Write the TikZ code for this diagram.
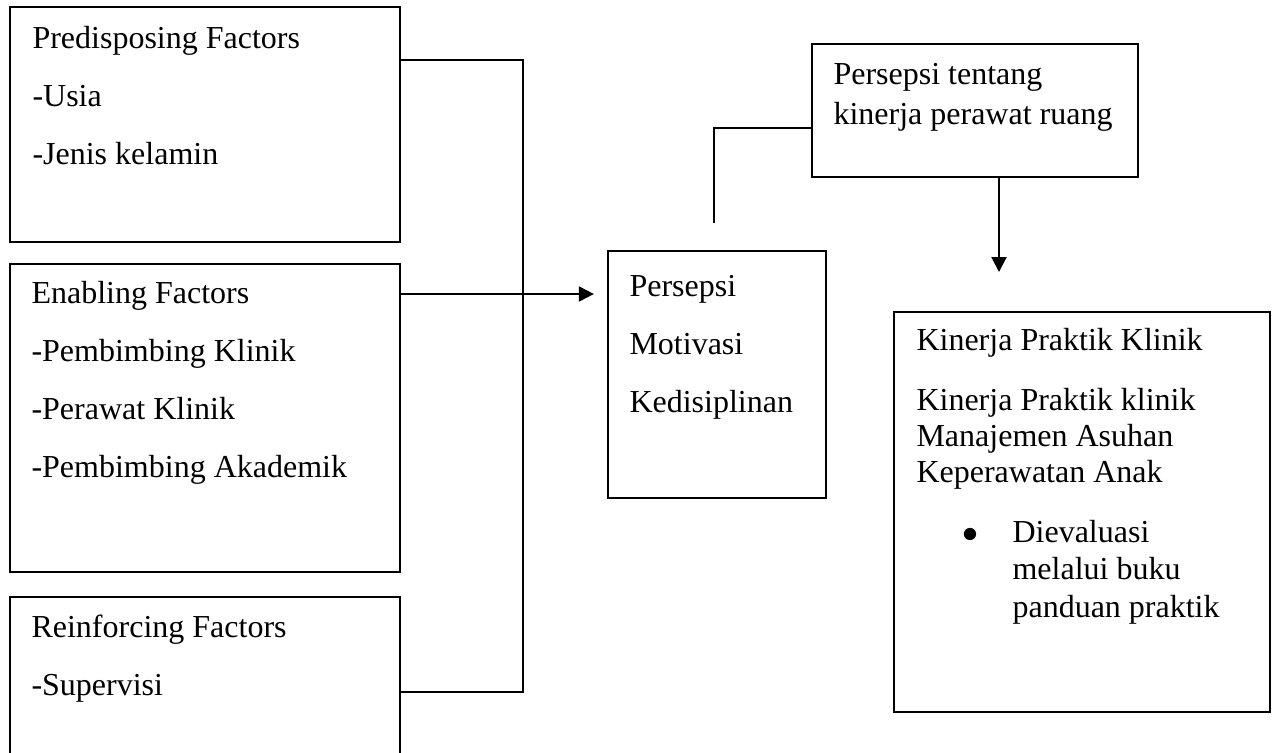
\documentclass[tikz,border=0pt]{standalone}
\usepackage{fontspec}
\setmainfont{Liberation Serif}
\usetikzlibrary{arrows.meta,positioning}

\begin{document}
\begin{tikzpicture}[x=.375pt,y=-.375pt,>={Triangle[length=5.6pt,width=5.6pt]},
  box/.style={draw,line width=.8pt,inner sep=0pt},
  txt/.style={anchor=base west,align=left,inner sep=0pt,font=\fontsize{12}{21.75}\selectfont},
  small/.style={anchor=base west,align=left,inner sep=0pt,font=\fontsize{12}{13.5}\selectfont},
  link/.style={line width=.8pt}]
  \useasboundingbox (0,0) rectangle (1275,753);
  \clip (0,0) rectangle (1275,753);
  % boxes
  \node[box,minimum width=146.25pt,minimum height=88.125pt] (pre) at (205,124.5) {};
  \node[box,minimum width=146.25pt,minimum height=115.5pt] (ena) at (205,418) {};
  \node[box,minimum width=146.25pt,minimum height=71.25pt] (rei) at (205,692) {};
  \node[box,minimum width=81.75pt,minimum height=92.625pt] (per) at (717,374.5) {};
  \node[box,minimum width=122.25pt,minimum height=49.875pt] (tpk) at (975,110.5) {};
  \node[box,minimum width=141pt,minimum height=150pt] (kin) at (1082,512) {};
  % texts (anchored at the baseline of the last line)
  \node[txt] (preT) at (32,164) {Predisposing Factors\\-Usia\\-Jenis kelamin};
  \node[txt] (enaT) at (31,477) {Enabling Factors\\-Pembimbing Klinik\\-Perawat Klinik\\-Pembimbing Akademik};
  \node[txt] (reiT) at (31,695) {Reinforcing Factors\\-Supervisi};
  \node[txt] (perT) at (629,412) {Persepsi\\Motivasi\\Kedisiplinan};
  \node[txt,font=\fontsize{12}{15}\selectfont] (tpkT) at (833,124) {Persepsi tentang\\kinerja perawat ruang};
  \node[small] (kinT) at (916,482) {Kinerja Praktik Klinik\\[9pt]Kinerja Praktik klinik\\Manajemen Asuhan\\Keperawatan Anak};
  \node[inner sep=0pt,font=\fontsize{12}{12}\selectfont] (bul) at (970,535) {$\bullet$};
  \node[small,font=\fontsize{12}{13.9}\selectfont] (evalT) at (1012,617) {Dievaluasi\\melalui buku\\panduan praktik};
  % connectors
  \coordinate (jn) at (523,60);
  \draw[link] (pre.east |- jn) -- (jn) |- (rei.east);
  \coordinate (ea) at (0,294);
  \draw[link,->,shorten >=4.9pt] (ena.east |- ea) -- (per.west |- ea);
  \coordinate (pf) at (714,223);
  \coordinate (pk) at (714,128);
  \draw[link] (pf) -- (pk) -- (tpk.west |- pk);
  \coordinate (kf) at (999,272);
  \draw[link,->] (tpk.south -| kf) -- (kf);
\end{tikzpicture}
\end{document}
